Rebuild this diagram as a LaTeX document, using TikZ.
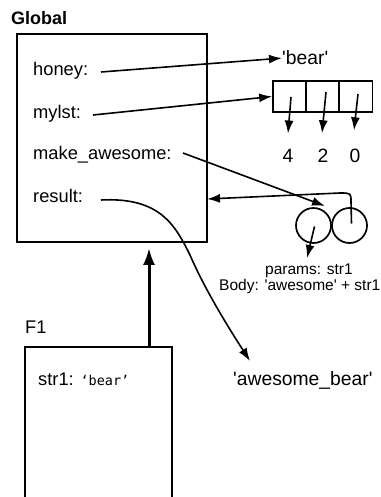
\documentclass[tikz,border=0pt]{standalone}
\usepackage{fontspec}
\setmainfont{Liberation Sans}[Ligatures=TeXOff]
\setmonofont{DejaVu Sans Mono}
\usetikzlibrary{arrows.meta,calc}
\begin{document}
\begin{tikzpicture}[x=1pt,y=-1pt,
  lbl/.style={anchor=base west,inner sep=0pt,font=\fontsize{18.3}{20}\selectfont},
  obj/.style={anchor=base west,inner sep=0pt,font=\fontsize{19.3}{21}\selectfont},
  small/.style={anchor=base west,inner sep=0pt,font=\fontsize{15.5}{17}\selectfont},
  frame/.style={draw,line width=1.7pt,inner sep=0pt},
  arr/.style={line width=1.6pt,-{Latex[length=13pt,width=9pt]}},
  bigarr/.style={line width=3pt,-{Latex[length=17pt,width=12pt]}},
  cell/.style={draw,line width=1.7pt,minimum width=33pt,minimum height=31pt,inner sep=0pt},
  fobj/.style={draw,circle,line width=1.7pt,minimum size=35pt,inner sep=0pt}]
\useasboundingbox (0,0) rectangle (380,497);
\clip (0,0) rectangle (380,497);
% frames
\node[frame,minimum width=190pt,minimum height=208pt] (glob) at (112,138) {};
\node[frame,minimum width=147pt,minimum height=180pt] (f1) at (98.5,437) {};
\node[lbl,font=\fontsize{18}{20}\selectfont\bfseries] (gtitle) at (11,25) {Global};
\node[lbl] (f1title) at (25,333) {F1};
% variable names
\node[lbl] (honey) at (33,76) {honey:};
\node[lbl] (mylst) at (33,119) {mylst:};
\node[lbl] (mkaw) at (33,160) {make\_awesome:};
\node[lbl] (result) at (33,202) {result:};
\node[lbl] (str1) at (38,385) {str1: \fontsize{13.5}{16}\selectfont\ttfamily ‘bear’};
% objects
\node[obj] (bear) at (282,65) {'bear'};
\node[cell] (c1) at (289.5,96.5) {};
\node[cell] (c2) at (322.5,96.5) {};
\node[cell] (c3) at (356,96.5) {};
\node[obj,anchor=base] (n4) at (288,162) {4};
\node[obj,anchor=base] (n2) at (323,162) {2};
\node[obj,anchor=base] (n0) at (355,162) {0};
\node[fobj] (fl) at (313.5,225.5) {};
\node[fobj] (fr) at (349.5,225.5) {};
\node[small] (params) at (265,274) {params: str1};
\node[small] (body) at (219,290) {Body: 'awesome' + str1};
\node[obj] (awb) at (233,385) {'awesome\_bear'};
% connector ends
\coordinate (hs) at (101,72);
\coordinate (ms) at (93,115);
\coordinate (ks) at (183,153);
\coordinate (rs) at (101,200);
\coordinate (ktip) at (325,206);
\coordinate (ret) at (207,199);
\coordinate (rtip) at (250,361);
% connectors
\draw[arr] (hs) -- (bear.west);
\draw[arr] (ms) -- (c1.west);
\draw[arr] (291,97) -- ($(n4.north)+(0,-15)$);
\draw[arr] (326,92) -- ($(n2.north)+(-1,-15)$);
\draw[arr] (358,94) -- ($(n0.north)+(-1,-18)$);
\draw[arr] (ks) -- (ktip);
\draw[arr] ($(fl.center)+(1,1)$) -- (307,258);
\draw[arr] ($(fr.center)+(2,-2)$) -- (351,202) .. controls (351,193) .. (340,193) -- (ret);
\draw[arr] (rs) .. controls (160,197) and (175,225) .. (190,255) .. controls (205,290) and (230,330) .. (rtip);
\draw[bigarr] ($(f1.north)+(50.5,0)$) -- ($(glob.south)+(37,5)$);
\end{tikzpicture}
\end{document}
